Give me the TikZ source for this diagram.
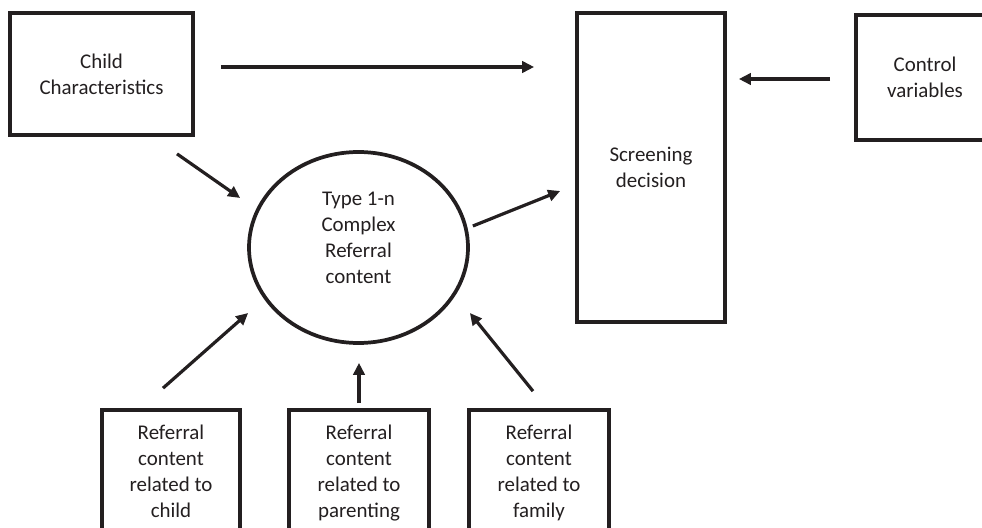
\documentclass[tikz,border=0pt]{standalone}
\usepackage{fontspec}
\setmainfont{Carlito}
\usetikzlibrary{shapes.geometric,arrows.meta,calc}
\definecolor{ink}{RGB}{35,31,32}
\begin{document}
\begin{tikzpicture}[
        x=0.75pt, y=-0.75pt,
        txt/.style={align=center,text=ink,font=\fontsize{15.7}{19.5}\selectfont},
        box/.style={txt,draw=ink,line width=2.8pt,inner sep=0pt},
        refbox/.style={box,minimum width=105pt,minimum height=98.25pt},
        arr/.style={draw=ink,line width=2.4pt,-{Triangle[length=9pt,width=8.5pt]}},
        ]
    \useasboundingbox (0,0) rectangle (982,528);
    \node (child) [box, minimum width=137.25pt, minimum height=91.5pt] at (101.5,74) {Child\\Characteristics};
    \node (screen) [box, minimum width=111pt, minimum height=231.75pt] at (651,167.5) {Screening\\decision};
    \node (control) [box, minimum width=103.5pt, minimum height=93.75pt] at (925,77.5) {Control\\variables};
    \node (ell) [box, ellipse, minimum width=164.25pt, minimum height=143.25pt,
        label={[txt,yshift=7.5pt]center:{Type 1-n\\Complex\\Referral\\content}}] at (358.5,247.5) {};
    \node (b1) [refbox, minimum width=103.5pt] at (171,475.5) {Referral\\content\\related to\\child\strut};
    \node (b2) [refbox] at (359,475.5) {Referral\\content\\related to\\parenting\strut};
    \node (b3) [refbox] at (539,475.5) {Referral\\content\\related to\\family\strut};

    \draw[arr, shorten <=19.5pt, shorten >=30.75pt] (child.east |- 0,67) -- (screen.west |- 0,67);
    \draw[arr, shorten <=18pt, shorten >=9pt] (control.west |- 0,79) -- (screen.east |- 0,79);
    \draw[arr] ($(child.south)+(75.5,17)$) -- ($(ell.west)+(-7,-49.5)$);
    \draw[arr] ($(ell.east)+(3,-21.5)$) -- ($(screen.west)+(-15,23.5)$);
    \draw[arr] ($(b1.north)+(-8,-20)$) -- ($(ell.west)+(1,65.5)$);
    \draw[arr, shorten <=3.75pt, shorten >=13.5pt] (b2.north) -- (b2.north |- ell.south);
    \draw[arr] ($(b3.north)+(-6,-17)$) -- ($(ell.east)+(0,65.5)$);
\end{tikzpicture}
\end{document}
